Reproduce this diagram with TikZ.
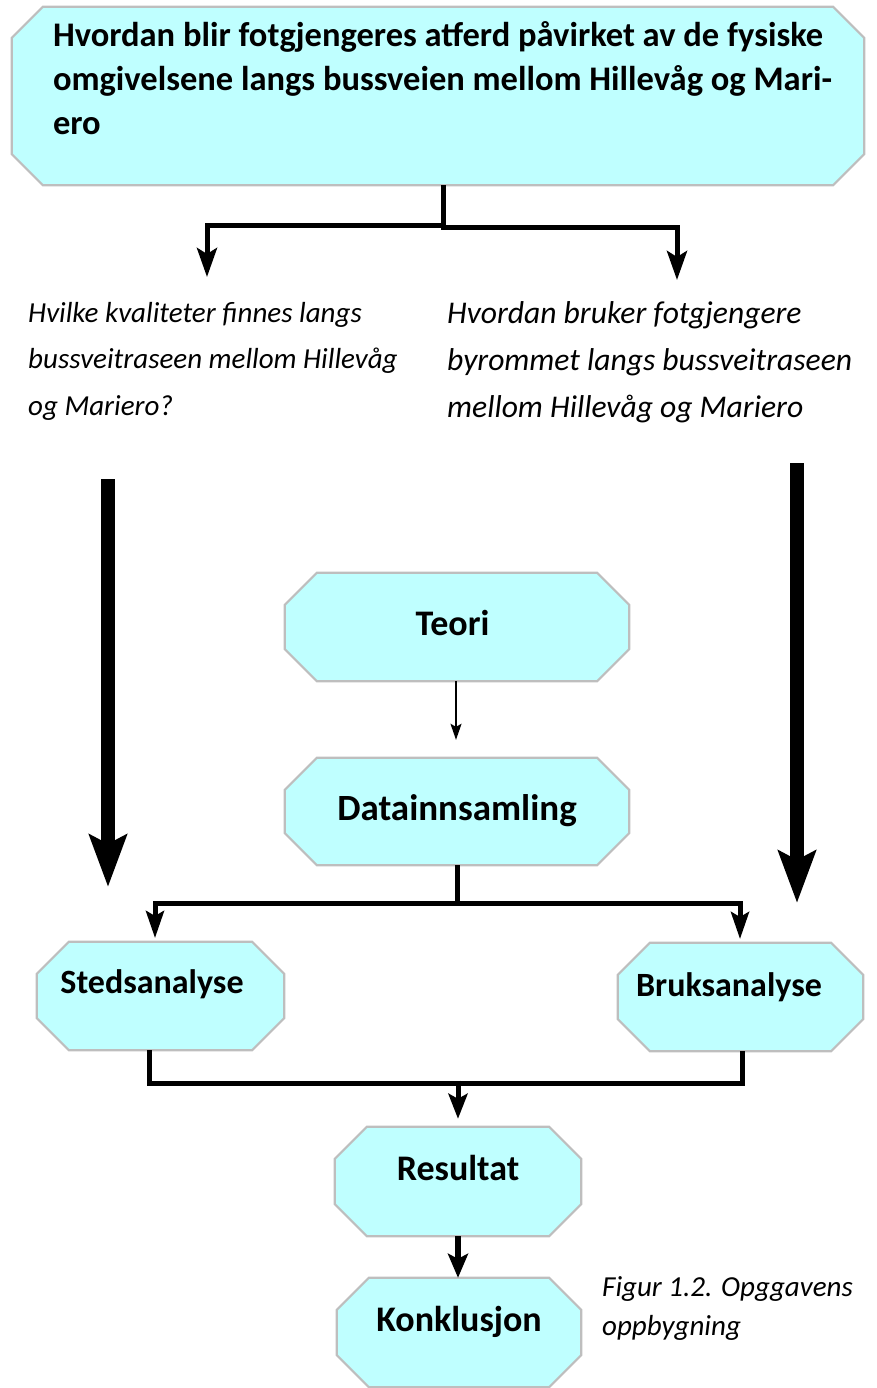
\documentclass[tikz,border=0pt]{standalone}
\usepackage{fontspec}
\setmainfont{Carlito}
\usetikzlibrary{arrows.meta,calc}
\definecolor{boxfill}{RGB}{191,255,255}
\definecolor{boxline}{RGB}{190,190,190}
\pgfdeclarelayer{bg}
\pgfsetlayers{bg,main}

% octagon outline around a named node: node, horizontal chamfer, vertical chamfer
\newcommand\drawoct[3]{%
  \draw[octedge] ($(#1.north west)+(#2,0)$) -- ($(#1.north east)+(-#2,0)$)
    -- ($(#1.north east)+(0,#3)$) -- ($(#1.south east)+(0,-#3)$)
    -- ($(#1.south east)+(-#2,0)$) -- ($(#1.south west)+(#2,0)$)
    -- ($(#1.south west)+(0,-#3)$) -- ($(#1.north west)+(0,#3)$) -- cycle;}

\begin{document}
\begin{tikzpicture}[x=1pt, y=-1pt,
  lbl/.style={rectangle, inner sep=0pt, text height=26pt, text depth=#1,
    font=\fontsize{36}{43}\selectfont\bfseries},
  small/.style={font=\fontsize{34}{41}\selectfont\bfseries},
  octedge/.style={draw=boxline, line width=2.2pt, fill=boxfill, line join=miter},
  question/.style={anchor=base west, inner sep=0pt, font=\fontsize{29}{46.5}\selectfont\itshape},
  caption/.style={anchor=base west, inner sep=0pt, font=\fontsize{29}{39}\selectfont\itshape},
  split/.style={line width=5pt, -{Stealth[length=29pt, width=20pt, inset=6pt]}},
  bigarrow/.style={line width=14pt, -{Stealth[length=52pt, width=37pt, inset=9pt]}},
  thinarrow/.style={line width=1.6pt, -{Stealth[length=16pt, width=11pt, inset=3pt]}},
  fork/.style={line width=5pt, -{Stealth[length=27pt, width=18pt, inset=5pt]}},
  joinline/.style={line width=5pt},
  joinarrow/.style={line width=5pt, -{Stealth[length=25pt, width=19pt, inset=5pt]}},
  lastarrow/.style={line width=6pt, -{Stealth[length=24pt, width=20pt, inset=5pt]}}
]
\useasboundingbox (0,0) rectangle (877,1388);

% main question
\node[rectangle, inner sep=0pt, minimum width=852pt, minimum height=178pt,
      text height=120pt, text depth=42pt, font=\fontsize{34.5}{44}\selectfont\bfseries]
  (top) at (438,96)
  {\parbox[b]{770pt}{\raggedright
    \mbox{Hvordan blir fotgjengeres atferd påvirket av de fysiske}\\
    \mbox{omgivelsene langs bussveien mellom Hillevåg og Mari-}\\
    \mbox{ero}}};

% sub-questions
\node[question] (q1) at (28,322)
  {\parbox[t]{420pt}{\raggedright
    \mbox{Hvilke kvaliteter finnes langs}\\
    \mbox{bussveitraseen mellom Hillevåg}\\
    \mbox{og Mariero?}}};
\node[question, font=\fontsize{31.6}{47}\selectfont\itshape] (q2) at (447,323)
  {\parbox[t]{425pt}{\raggedright
    \mbox{Hvordan bruker fotgjengere}\\
    \mbox{byrommet langs bussveitraseen}\\
    \mbox{mellom Hillevåg og Mariero}}};

% process steps
\node[lbl=10pt, minimum width=344pt, minimum height=108pt] (teori) at (457,627) {Teori\hspace*{9pt}};
\node[lbl=9pt, minimum width=344pt, minimum height=107pt, font=\fontsize{37}{44}\selectfont\bfseries] (data) at (457,811.5) {Datainnsamling};
\node[lbl=32pt, small, minimum width=247pt, minimum height=108pt] (steds) at (160.5,996) {Stedsanalyse\hspace*{17pt}};
\node[lbl=27pt, small, minimum width=245pt, minimum height=108pt] (bruks) at (740.5,997) {Bruksanalyse\hspace*{23pt}};
\node[lbl=28pt, minimum width=246pt, minimum height=109pt] (resultat) at (458,1181.5) {Resultat};
\node[lbl=28pt, minimum width=244pt, minimum height=109pt] (konklusjon) at (459,1332.5) {Konklusjon};

\node[caption] (cap) at (602,1296)
  {\parbox[t]{270pt}{\raggedright
    \mbox{Figur 1.2. Opggavens}\\
    \mbox{oppbygning}}};

% white page and the octagon outlines behind the labels
\begin{pgfonlayer}{bg}
  \fill[white] (0,0) rectangle (877,1388);
  \drawoct{top}{31}{31}
  \foreach \n in {teori,data,steds,bruks,resultat,konklusjon}{\drawoct{\n}{32}{32}}
\end{pgfonlayer}

% bend points and free ends
\coordinate (la) at (207,226);
\coordinate (lt) at (207,277);
\coordinate (ra) at (677,228);
\coordinate (rt) at (677,280);
\coordinate (lbig0) at (108,479);
\coordinate (lbig1) at (108,887);
\coordinate (rbig0) at (797,463);
\coordinate (rbig1) at (797,903);
\coordinate (sj) at (155,903);
\coordinate (st) at (155,938);
\coordinate (bj) at (740,903);
\coordinate (bt) at (740,939);
\coordinate (rj) at (458,1083);

% connectors
\draw[split] ([xshift=5pt]top.south) |- (la) -- (lt);
\draw[split] ([xshift=5pt]top.south) |- (ra) -- (rt);
\draw[bigarrow] (lbig0) -- (lbig1);
\draw[bigarrow] (rbig0) -- (rbig1);
\draw[thinarrow] ([xshift=-1pt]teori.south) -- ([xshift=-1pt,yshift=18pt]data.north);
\draw[fork] (data.south) |- (sj) -- (st);
\draw[fork] (data.south) |- (bj) -- (bt);
\draw[joinline] ([xshift=-11.5pt]steds.south) |- (rj);
\draw[joinline] ([xshift=1.5pt]bruks.south) |- (rj);
\draw[joinarrow] ([yshift=2.5pt]rj) -- ([yshift=8pt]resultat.north);
\draw[lastarrow] (resultat.south) -- (resultat.south |- konklusjon.north);
\end{tikzpicture}
\end{document}
